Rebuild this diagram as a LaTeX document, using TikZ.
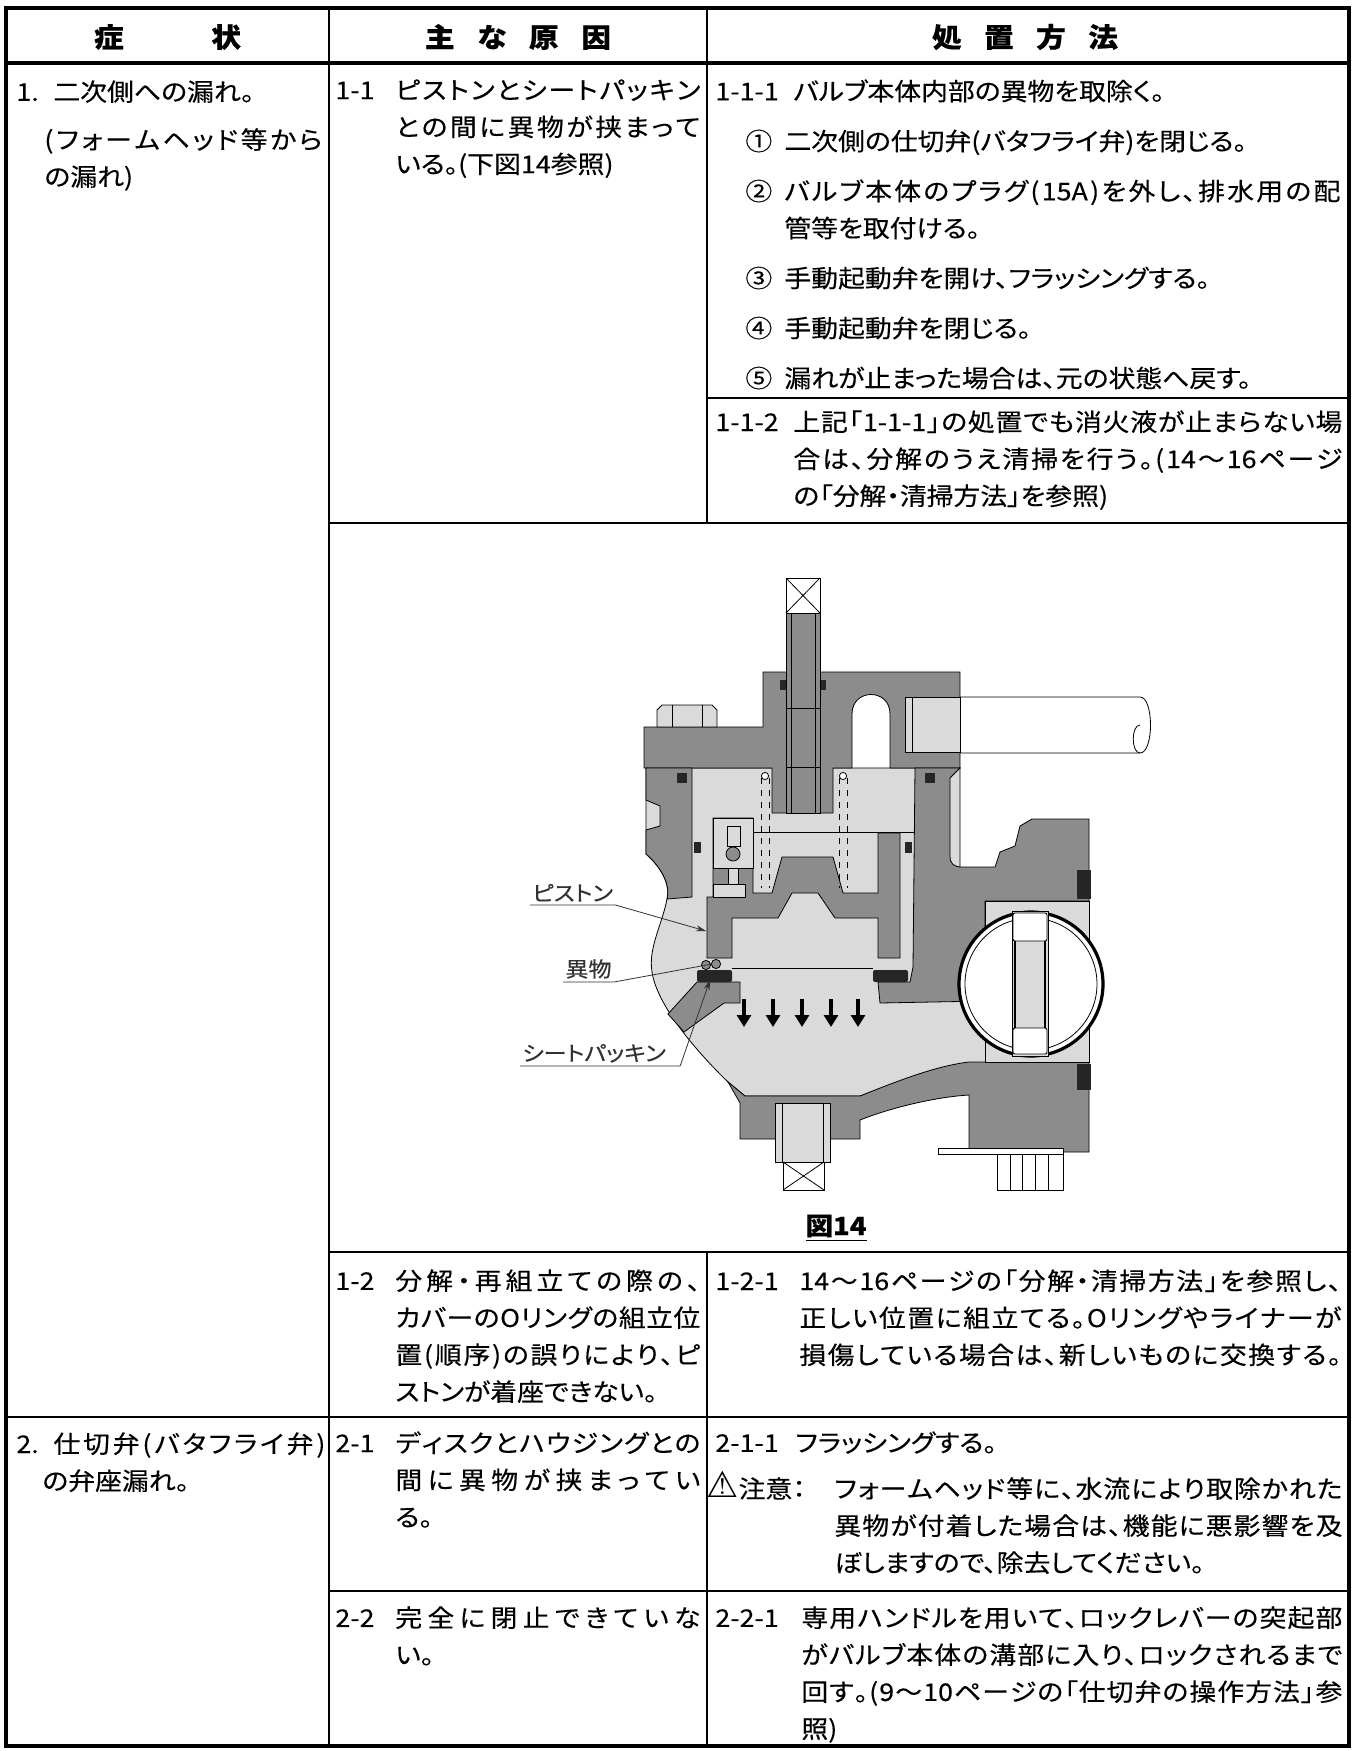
\documentclass[tikz,border=0pt]{standalone}
\usepackage{fontspec}
\setmainfont{Noto Sans CJK JP}[FakeStretch=1.1,FakeBold=0.3,RawFeature=+palt]
\newfontfamily\warnfont{DejaVu Sans}
\usetikzlibrary{arrows.meta}
\definecolor{bodyg}{RGB}{140,140,140}
\definecolor{lightg}{RGB}{218,218,218}
\definecolor{labelg}{RGB}{50,50,50}
\newdimen\pxu \pxu=0.5pt
% spread the characters of one line over a given width (in px)
\def\sprendmark{\relax}
\def\spr#1{#1\sprx}
\def\sprx#1{\def\sprarg{#1}\ifx\sprarg\sprendmark\else\hfil#1\expandafter\sprx\fi}
\newcommand\fl[2]{\makebox[#1\pxu][s]{\spr#2\relax}}
\tikzstyle{cell}=[anchor=north west,inner sep=0pt,align=left,font=\fontsize{12.2}{18.5}\selectfont]
\tikzstyle{head}=[inner sep=0pt,font=\bfseries\fontsize{13.5}{16}\selectfont]
\tikzstyle{frame}=[line width=2pt]
\tikzstyle{grid}=[line width=1.1pt]
\tikzstyle{wall}=[fill=bodyg,draw=black,line width=0.4pt]
\tikzstyle{cavity}=[fill=lightg,draw=black,line width=0.4pt]
\tikzstyle{part}=[fill=white,draw=black,line width=0.4pt]
\tikzstyle{seal}=[fill=black!85]
\tikzstyle{flow}=[line width=2.2pt,-{Triangle[length=6pt,width=7pt]}]
\tikzstyle{tag}=[anchor=south west,inner xsep=1pt,inner ysep=1.5pt,text=labelg,font=\fontsize{10.5}{12}\selectfont]
\tikzstyle{leader}=[draw=labelg,line width=0.4pt]
\begin{document}
\begin{tikzpicture}[x=0.5pt,y=-0.5pt]
\useasboundingbox (0,0) rectangle (1354,1751);
\fill[white] (0,0) rectangle (1354,1751);

% valve body (fig. 14)
\path[cavity] (646,854) .. controls (660,866) and (671,884) .. (667,899)
  .. controls (662,925) and (648,948) .. (652,972)
  .. controls (657,1005) and (695,1050) .. (728,1082)
  -- (745,1096) -- (860,1096) -- (969,1066) -- (1089,1062) -- (1089,901)
  -- (960,901) -- (960,768) -- (646,768) -- cycle;
\path[wall] (644,727) -- (763,727) -- (763,672) -- (960,672) -- (960,768)
  -- (890,768) -- (890,714) .. controls (890,688) and (852,688) .. (852,714)
  -- (852,768) -- (833,768) -- (833,813) -- (772,813) -- (772,768) -- (644,768) -- cycle;
\path[wall] (646,768) -- (692,768) -- (692,897) -- (667,899)
  .. controls (671,884) and (660,866) .. (646,854) -- (646,830) -- (660,826)
  -- (660,806) -- (646,800) -- cycle;
\path[wall] (915,768) -- (960,768) -- (950,778) -- (950,856)
  .. controls (950,864) and (954,867) .. (962,867) -- (995,867) -- (1000,852)
  -- (1015,846) -- (1020,826) -- (1032,819) -- (1089,819) -- (1089,901)
  -- (985,901) -- (985,1001) -- (880,1003) -- (878,982) -- (910,982)
  -- (913,967) -- cycle;
\path[wall] (728,1082) -- (745,1096) -- (860,1096)
  .. controls (895,1082) and (935,1066) .. (969,1062) -- (1089,1062)
  -- (1089,1152) -- (969,1152) -- (969,1095)
  .. controls (935,1097) and (890,1108) .. (860,1120) -- (860,1139)
  -- (740,1139) -- (740,1103) -- cycle;
\path[wall] (697,982) -- (740,982) -- (740,1003) -- (724,1003) -- (684,1032) -- (668,1014) -- cycle;

% piston
\path[wall] (707,958) -- (707,897) -- (713,897) -- (713,818) -- (753,818) -- (753,893)
  -- (772,893) -- (782,857) -- (833,857) -- (843,893) -- (878,893) -- (878,833)
  -- (900,833) -- (900,958) -- (878,958) -- (878,918) -- (835,918) -- (818,893)
  -- (792,893) -- (778,918) -- (732,918) -- (732,958) -- cycle;
\path[cavity] (713,818) rectangle (753,868);
\draw (727,826) rectangle (740,846);
\draw[fill=bodyg] (733,854) circle[radius=3.5pt];
\path[cavity] (728,868) rectangle (738,884);
\path[cavity] (713,884) rectangle (745,897);
\foreach \sx in {761,769,839,847}
  \draw[dashed] (\sx,778) -- (\sx,888);
\draw[fill=white] (765,776) circle[radius=1.8pt] (843,776) circle[radius=1.8pt];
\draw (753,832) -- (915,832);

% seals
\fill[seal] (677,773) rectangle (687,783);
\fill[seal] (925,773) rectangle (935,783);
\fill[seal] (694,842) rectangle (701,853);
\fill[seal] (905,842) rectangle (912,853);
\fill[seal] (780,680) rectangle (786,690);
\fill[seal] (820,680) rectangle (826,690);

% stem, nut, pipe
\path[wall] (786,613) rectangle (820,813);
\path[part] (786,578) rectangle (820,613);
\draw (786,578) -- (820,613) (786,613) -- (820,578);
\draw (786,708) -- (820,708) (786,767) -- (820,767);
\draw (791,613) -- (791,813) (815,613) -- (815,813);
\path[part,fill=lightg] (657,727) -- (657,710) -- (662,705) -- (712,705) -- (717,710) -- (717,727) -- cycle;
\draw (672,705) -- (672,727) (702,705) -- (702,727);
\path[part] (960,697) -- (1140,697) .. controls (1154,697) and (1154,753) .. (1140,753) -- (960,753) -- cycle;
\draw (1140,725) .. controls (1131,725) and (1131,753) .. (1140,753);
\path[cavity] (905,697) rectangle (960,752);
\draw (912,697) -- (912,752);

% seat, foreign matter, flow
\draw (732,968) -- (873,968);
\fill[seal,rounded corners=1pt] (697,970) rectangle (732,982);
\fill[seal,rounded corners=1pt] (873,970) rectangle (908,982);
\draw[fill=bodyg] (706,965) circle[radius=2.3pt] (716,964) circle[radius=2.3pt];
\foreach \ax in {744,773,802,831,858}
  \draw[flow] (\ax,999) -- (\ax,1027);

% butterfly valve
\path[cavity] (985,901) rectangle (1089,1062);
\draw[line width=1.6pt,fill=white] (1031,984) circle[radius=36pt];
\draw (1031,984) circle[radius=33pt];
\path[part,fill=lightg] (1012,911) rectangle (1048,1056);
\path[part,rounded corners=1pt] (1013,913) rectangle (1047,941);
\path[part,rounded corners=1pt] (1013,1028) rectangle (1047,1054);
\draw[line width=0.8pt] (1015,941) -- (1015,1028) (1045,941) -- (1045,1028);
\fill[seal] (1077,870) rectangle (1091,899);
\fill[seal] (1077,1064) rectangle (1091,1090);

% plug, plate, bolt
\path[part,fill=lightg] (775,1103) rectangle (830,1162);
\draw (782,1103) -- (782,1162) (823,1103) -- (823,1162);
\path[part] (783,1162) rectangle (824,1190);
\draw (783,1162) -- (824,1190) (783,1190) -- (824,1162);
\path[part] (938,1148) rectangle (1063,1154);
\path[part] (997,1154) rectangle (1063,1190);
\foreach \bx in {1010,1022,1035,1048}
  \draw (\bx,1154) -- (\bx,1190);

% labels
\coordinate (pistonpt) at (706,931);
\coordinate (debrispt) at (712,964);
\coordinate (seatpt) at (710,980);
\node[tag] (ptag) at (530,905) {ピストン};
\node[tag] (ftag) at (563,982) {異物};
\node[tag] (stag) at (520,1066) {シートパッキン};
\draw[leader,-{Stealth[length=5pt,width=3pt]}] (ptag.south west) -- (ptag.south east) -- (pistonpt);
\draw[leader] (ftag.south west) -- (ftag.south east) -- (debrispt);
\draw[leader,-{Stealth[length=5pt,width=3pt]}] (stag.south west) -- ([xshift=6pt]stag.south east) -- (seatpt);
\node[font=\bfseries\fontsize{12.5}{15}\selectfont,inner sep=0pt] (figcap) at (836,1228) {\underline{図14}};

% table
\draw[frame] (6,8) rectangle (1349,1746);
\draw[frame] (6,63) -- (1349,63);
\draw[grid] (329,8) -- (329,1746);
\draw[grid] (707,8) -- (707,523);
\draw[grid] (707,1252) -- (707,1746);
\draw[grid] (707,398) -- (1349,398);
\draw[grid] (329,523) -- (1349,523);
\draw[grid] (329,1252) -- (1349,1252);
\draw[grid] (6,1417) -- (1349,1417);
\draw[grid] (329,1591) -- (1349,1591);

\node[head] (h1) at (167.5,37) {\fl{147}{症状}};
\node[head] (h2) at (518,37) {\fl{186}{主な原因}};
\node[head] (h3) at (1025,37) {\fl{186}{処置方法}};

\node[cell] (sym1) at (16,80) {\makebox[37\pxu][l]{1.}二次側への漏れ。\\[5.5pt]%
\hspace*{28\pxu}\fl{278}{(フォームヘッド等から}\\%
\hspace*{28\pxu}の漏れ)};
\node[cell] (sym2) at (16,1432) {\makebox[37\pxu][l]{2.}\fl{272}{仕切弁(バタフライ弁)}\\%
\hspace*{26\pxu}の弁座漏れ。};

\node[cell] (cause11) at (335,79) {\makebox[60\pxu][l]{1-1}\fl{305}{ピストンとシートパッキン}\\%
\hspace*{60\pxu}\fl{305}{との間に異物が挟まって}\\%
\hspace*{60\pxu}いる。(下図14参照)};
\node[cell] (cause12) at (335,1269) {\makebox[60\pxu][l]{1-2}\fl{305}{分解・再組立ての際の、}\\%
\hspace*{60\pxu}\fl{305}{カバーのOリングの組立位}\\%
\hspace*{60\pxu}\fl{305}{置(順序)の誤りにより、ピ}\\%
\hspace*{60\pxu}ストンが着座できない。};
\node[cell] (cause21) at (335,1431) {\makebox[60\pxu][l]{2-1}\fl{305}{ディスクとハウジングとの}\\%
\hspace*{60\pxu}\fl{305}{間に異物が挟まってい}\\%
\hspace*{60\pxu}る。};
\node[cell] (cause22) at (335,1606) {\makebox[60\pxu][l]{2-2}\fl{305}{完全に閉止できていな}\\%
\hspace*{60\pxu}い。};

\node[cell] (act111) at (715,79) {\makebox[78\pxu][l]{1-1-1}バルブ本体内部の異物を取除く。\\[6.5pt]%
\hspace*{30\pxu}\makebox[39\pxu][l]{①}二次側の仕切弁(バタフライ弁)を閉じる。\\[6.5pt]%
\hspace*{30\pxu}\makebox[39\pxu][l]{②}\fl{556}{バルブ本体のプラグ({15A})を外し、排水用の配}\\%
\hspace*{69\pxu}管等を取付ける。\\[6.5pt]%
\hspace*{30\pxu}\makebox[39\pxu][l]{③}手動起動弁を開け、フラッシングする。\\[6.5pt]%
\hspace*{30\pxu}\makebox[39\pxu][l]{④}手動起動弁を閉じる。\\[6.5pt]%
\hspace*{30\pxu}\makebox[39\pxu][l]{⑤}漏れが止まった場合は、元の状態へ戻す。};
\node[cell] (act112) at (715,410) {\makebox[78\pxu][l]{1-1-2}\fl{549}{上記「{1-1-1}」の処置でも消火液が止まらない場}\\%
\hspace*{78\pxu}\fl{549}{合は、分解のうえ清掃を行う。({14}〜{16}ページ}\\%
\hspace*{78\pxu}の「分解・清掃方法」を参照)};
\node[cell] (act121) at (715,1269) {\makebox[84\pxu][l]{1-2-1}\fl{542}{{14}〜{16}ページの「分解・清掃方法」を参照し、}\\%
\hspace*{84\pxu}\fl{542}{正しい位置に組立てる。Oリングやライナーが}\\%
\hspace*{84\pxu}\fl{542}{損傷している場合は、新しいものに交換する。}};
\node[cell] (act211) at (715,1431) {\makebox[80\pxu][l]{2-1-1}フラッシングする。\\[4.5pt]%
\hspace*{-9\pxu}\makebox[128\pxu][l]{{\warnfont\fontsize{18}{18}\selectfont ⚠}注意：}\fl{508}{フォームヘッド等に、水流により取除かれた}\\%
\hspace*{119\pxu}\fl{508}{異物が付着した場合は、機能に悪影響を及}\\%
\hspace*{119\pxu}ぼしますので、除去してください。};
\node[cell] (act221) at (715,1606) {\makebox[86\pxu][l]{2-2-1}\fl{541}{専用ハンドルを用いて、ロックレバーの突起部}\\%
\hspace*{86\pxu}\fl{541}{がバルブ本体の溝部に入り、ロックされるまで}\\%
\hspace*{86\pxu}\fl{541}{回す。({9}〜{10}ページの「仕切弁の操作方法」参}\\%
\hspace*{86\pxu}照)};
\end{tikzpicture}
\end{document}
